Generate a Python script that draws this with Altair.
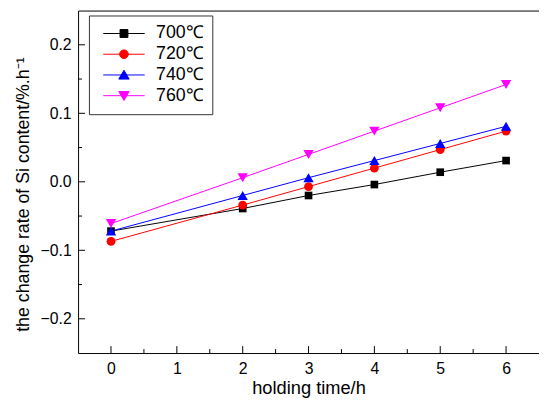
import altair as alt
import pandas as pd

times = [0, 2, 3, 4, 5, 6]
series = ["700℃", "720℃", "740℃", "760℃"]
r700 = [-0.072, -0.039, -0.020, -0.004, 0.014, 0.031]
r720 = [-0.087, -0.034, -0.007, 0.020, 0.047, 0.074]
r740 = [-0.072, -0.020, 0.006, 0.031, 0.056, 0.081]
r760 = [-0.061, 0.006, 0.040, 0.074, 0.108, 0.142]
colors = ["#000000", "#FF0000", "#0000FF", "#FF00FF"]
shapes = ["square", "circle", "triangle-up", "triangle-down"]
sizes = [60, 80, 110, 110]
legend_paths = [
    "M-1,0H1M-0.19,-0.19H0.19V0.19H-0.19Z",
    "M-1,0H1M0.21,0A0.21,0.21 0 1,1 -0.21,0A0.21,0.21 0 1,1 0.21,0Z",
    "M-1,0H1M0,-0.23L0.25,0.2L-0.25,0.2Z",
    "M-1,0H1M0,0.23L0.25,-0.2L-0.25,-0.2Z",
]
x_labels = [0, 1, 2, 3, 4, 5, 6]
y_labels = [-0.2, -0.1, 0.0, 0.1, 0.2]
x_minor = [0.5, 1.5, 2.5, 3.5, 4.5, 5.5]
y_minor = [-0.15, -0.05, 0.05, 0.15]

rows = []
for name, vals, col in zip(series, [r700, r720, r740, r760], colors):
    for t, v in zip(times, vals):
        rows.append({"time": t, "rate": v, "T": name, "col": col})
df = pd.DataFrame(rows)

xt = pd.DataFrame({"v": x_labels + x_minor,
                   "major": [True] * len(x_labels) + [False] * len(x_minor)})
yt = pd.DataFrame({"v": y_labels + y_minor,
                   "major": [True] * len(y_labels) + [False] * len(y_minor)})

FONT = "Liberation Sans"
W, H = 467, 347

xscale = alt.Scale(domain=[-0.5, 6.5], nice=False, zero=False)
yscale = alt.Scale(domain=[-0.25, 0.25], nice=False, zero=False)

base = alt.Chart(df)

leg = dict(
    title=None, orient="none", legendX=11, legendY=5, symbolSize=1764,
    symbolStrokeWidth=1, symbolOpacity=1, symbolOffset=6, labelFont=FONT, labelFontSize=18,
    labelColor="black", strokeColor="#333333", fillColor="white", padding=8,
    rowPadding=0, clipHeight=20.5, labelOffset=11,
)
legend_layer = base.mark_point(filled=True, opacity=0, size=1764, strokeWidth=1).encode(
    x=alt.X("time:Q", scale=xscale, axis=None),
    y=alt.Y("rate:Q", scale=yscale, axis=None),
    fill=alt.Fill("T:N", scale=alt.Scale(domain=series, range=colors), legend=alt.Legend(**leg)),
    stroke=alt.Stroke("T:N", scale=alt.Scale(domain=series, range=colors), legend=alt.Legend(**leg)),
    shape=alt.Shape("T:N", scale=alt.Scale(domain=series, range=legend_paths),
                    legend=alt.Legend(**leg)),
)

lines = base.mark_line(strokeWidth=1).encode(
    x=alt.X("time:Q", scale=xscale, axis=alt.Axis(
        orient="bottom", values=x_labels, title="holding time/h", ticks=False, tickSize=0,
        domain=False, grid=False, labelFont=FONT, labelFontSize=16, labelPadding=8,
        labelColor="black", titleFont=FONT, titleFontSize=18.5, titleFontWeight="normal",
        titleColor="black", titleY=41, titleBaseline="alphabetic")),
    y=alt.Y("rate:Q", scale=yscale, axis=alt.Axis(
        orient="left", values=y_labels, format=".1f", title="the change rate of Si content/%.h⁻¹",
        ticks=False, tickSize=0, domain=False, grid=False, labelFont=FONT, labelFontSize=16,
        labelPadding=7, labelColor="black", titleFont=FONT, titleFontSize=18,
        titleFontWeight="normal", titleColor="black", titleX=-50, titleY=186,
        titleBaseline="alphabetic")),
    color=alt.Color("col:N", scale=None),
    detail="T:N",
)

xticks_major = alt.Chart(xt).transform_filter(alt.datum.major).mark_rule(color="black", strokeWidth=1).encode(
    x=alt.X("v:Q", scale=xscale, axis=None), y=alt.value(H), y2=alt.value(H - 7))
xticks_minor = alt.Chart(xt).transform_filter(~alt.datum.major).mark_rule(color="black", strokeWidth=1).encode(
    x=alt.X("v:Q", scale=xscale, axis=None), y=alt.value(H), y2=alt.value(H - 4))
yticks_major = alt.Chart(yt).transform_filter(alt.datum.major).mark_rule(color="black", strokeWidth=1).encode(
    y=alt.Y("v:Q", scale=yscale, axis=None), x=alt.value(0), x2=alt.value(7))
yticks_minor = alt.Chart(yt).transform_filter(~alt.datum.major).mark_rule(color="black", strokeWidth=1).encode(
    y=alt.Y("v:Q", scale=yscale, axis=None), x=alt.value(0), x2=alt.value(4))

point_layers = []
for name, shp, sz in zip(series, shapes, sizes):
    point_layers.append(
        base.transform_filter(alt.datum.T == name).mark_point(
            filled=True, opacity=1, shape=shp, size=sz
        ).encode(
            x=alt.X("time:Q", scale=xscale, axis=None),
            y=alt.Y("rate:Q", scale=yscale, axis=None),
            fill=alt.Fill("col:N", scale=None),
        )
    )

chart = alt.layer(
    legend_layer, lines, xticks_major, xticks_minor, yticks_major, yticks_minor, *point_layers
).resolve_axis(x="independent", y="independent").properties(
    width=W, height=H,
    autosize=alt.AutoSizeParams(type="none"),
    padding={"left": 71, "top": 0, "right": 0, "bottom": 46},
    background="white",
).configure_view(stroke="black", strokeWidth=1)

chart.save("out.html", embed_options={"renderer": "svg", "actions": False})
